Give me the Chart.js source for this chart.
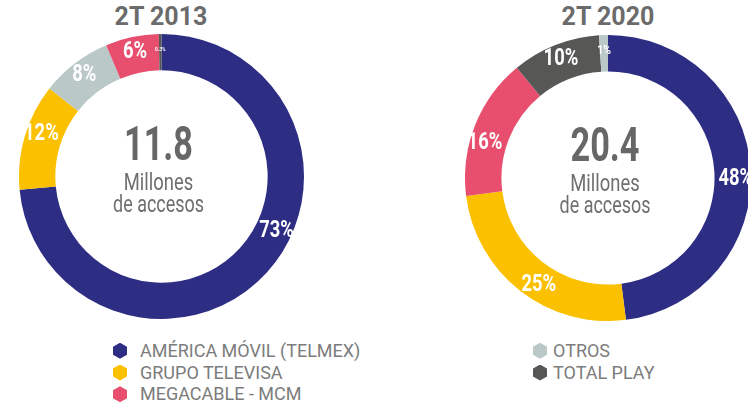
<!DOCTYPE html>
<html>
<head>
<meta charset="utf-8">
<script src="https://cdn.jsdelivr.net/npm/chart.js@4"></script>
<style>
  html, body { margin: 0; padding: 0; background: #fff; overflow: hidden; }
  body { width: 748px; height: 405px; position: relative; font-family: Roboto, 'Noto Sans', sans-serif; }
  .title { position: absolute; top: 2px; width: 200px; text-align: center; font-weight: bold; font-size: 25px; color: #6b6b6b; }
  .ring { position: absolute; }
  .legend { position: absolute; top: 340px; font-size: 18px; color: #7c7c7c; line-height: 21.7px; }
  .legend .item { display: flex; align-items: center; white-space: nowrap; }
  .legend .hex { width: 14px; height: 16px; clip-path: polygon(50% 0, 100% 25%, 100% 75%, 50% 100%, 0 75%, 0 25%); flex: none; }
</style>
</head>
<body>
<div class="title" id="title2013" style="left:61px;"></div>
<div class="title" id="title2020" style="left:508px;"></div>
<div class="ring" style="left:19px; top:34px; width:285px; height:285px;"><canvas id="chart2013"></canvas></div>
<div class="ring" style="left:465px; top:35px; width:286px; height:286px;"><canvas id="chart2020"></canvas></div>
<div class="legend" id="legendLeft" style="left:113px;"></div>
<div class="legend" id="legendRight" style="left:533px;"></div>
<script>
// Data
var periods = ['2T 2013', '2T 2020'];
var totals = ['11.8', '20.4'];
var centerLines = ['Millones', 'de accesos'];

var labels2013 = ['AMÉRICA MÓVIL (TELMEX)', 'GRUPO TELEVISA', 'OTROS', 'MEGACABLE - MCM', 'TOTAL PLAY'];
var share2013 = [73, 12, 8, 6, 0.3];

var labels2020 = ['AMÉRICA MÓVIL (TELMEX)', 'GRUPO TELEVISA', 'MEGACABLE - MCM', 'TOTAL PLAY', 'OTROS'];
var share2020 = [48, 25, 16, 10, 1];

var legendLeft = ['AMÉRICA MÓVIL (TELMEX)', 'GRUPO TELEVISA', 'MEGACABLE - MCM'];
var legendRight = ['OTROS', 'TOTAL PLAY'];

var colorOf = {
    'AMÉRICA MÓVIL (TELMEX)': '#2e2d84',
    'GRUPO TELEVISA': '#fbc000',
    'MEGACABLE - MCM': '#e84f6f',
    'OTROS': '#bac8c7',
    'TOTAL PLAY': '#575756'
};

document.getElementById('title2013').textContent = periods[0];
document.getElementById('title2020').textContent = periods[1];

function buildLegend(id, names, gap) {
    var box = document.getElementById(id);
    names.forEach(function (name) {
        var row = document.createElement('div');
        row.className = 'item';
        var hex = document.createElement('span');
        hex.className = 'hex';
        hex.style.background = colorOf[name];
        hex.style.marginRight = gap + 'px';
        var txt = document.createElement('span');
        txt.textContent = name;
        row.appendChild(hex);
        row.appendChild(txt);
        box.appendChild(row);
    });
}
buildLegend('legendLeft', legendLeft, 13);
buildLegend('legendRight', legendRight, 6);

// percentage labels on the ring + total in the middle
var ringText = {
    id: 'ringText',
    afterDatasetsDraw: function (chart, args, opts) {
        var ctx = chart.ctx;
        var meta = chart.getDatasetMeta(0);
        var values = chart.data.datasets[0].data;
        var nudge = opts.nudge || {};
        ctx.save();
        ctx.fillStyle = '#ffffff';
        ctx.textAlign = 'center';
        ctx.textBaseline = 'middle';
        meta.data.forEach(function (arc, i) {
            var span = arc.endAngle - arc.startAngle;
            var size = span < 0.04 ? 6 : (span < 0.1 ? 13 : 23);
            // label sits on the ring, a bit past the middle of the band
            var a = (arc.startAngle + arc.endAngle) / 2 + (nudge[i] || 0) * Math.PI / 180;
            var r = (arc.innerRadius + arc.outerRadius) / 2 + 3;
            var v = values[i];
            var text = (v < 1 ? v.toFixed(1) : Math.round(v)) + '%';
            ctx.save();
            ctx.translate(arc.x + Math.cos(a) * r, arc.y + Math.sin(a) * r);
            ctx.scale(0.8, 1);
            ctx.font = 'bold ' + size + 'px Roboto';
            ctx.fillText(text, 0, 0);
            ctx.restore();
        });

        var cx = (chart.chartArea.left + chart.chartArea.right) / 2;
        var cy = (chart.chartArea.top + chart.chartArea.bottom) / 2;
        ctx.textBaseline = 'alphabetic';
        ctx.save();
        ctx.translate(cx - 3, cy - 17);
        ctx.scale(0.7, 1);
        ctx.fillStyle = '#676767';
        ctx.font = 'bold 49px Roboto';
        ctx.fillText(opts.total, 0, 0);
        ctx.restore();

        ctx.fillStyle = '#6f6f6f';
        ctx.font = '23px Roboto';
        ctx.save();
        ctx.translate(cx - 3, cy + 13);
        ctx.scale(0.8, 1);
        ctx.fillText(centerLines[0], 0, 0);
        ctx.restore();
        ctx.save();
        ctx.translate(cx - 3, cy + 35);
        ctx.scale(0.78, 1);
        ctx.fillText(centerLines[1], 0, 0);
        ctx.restore();
        ctx.restore();
    }
};

function makeRing(canvasId, labels, values, total, nudge) {
    return new Chart(document.getElementById(canvasId).getContext('2d'), {
        type: 'doughnut',
        data: {
            labels: labels,
            datasets: [{
                data: values,
                backgroundColor: labels.map(function (l) { return colorOf[l]; }),
                borderWidth: 0
            }]
        },
        options: {
            responsive: true,
            maintainAspectRatio: false,
            animation: false,
            cutout: '74.5%',
            layout: { padding: 0 },
            plugins: {
                legend: { display: false },
                tooltip: { enabled: false },
                ringText: { total: total, nudge: nudge }
            }
        },
        plugins: [ringText]
    });
}

makeRing('chart2013', labels2013, share2013, totals[0], { 0: -17, 1: 3 });
makeRing('chart2020', labels2020, share2020, totals[1], { 0: 4, 1: -5, 2: -6 });
</script>
</body>
</html>
